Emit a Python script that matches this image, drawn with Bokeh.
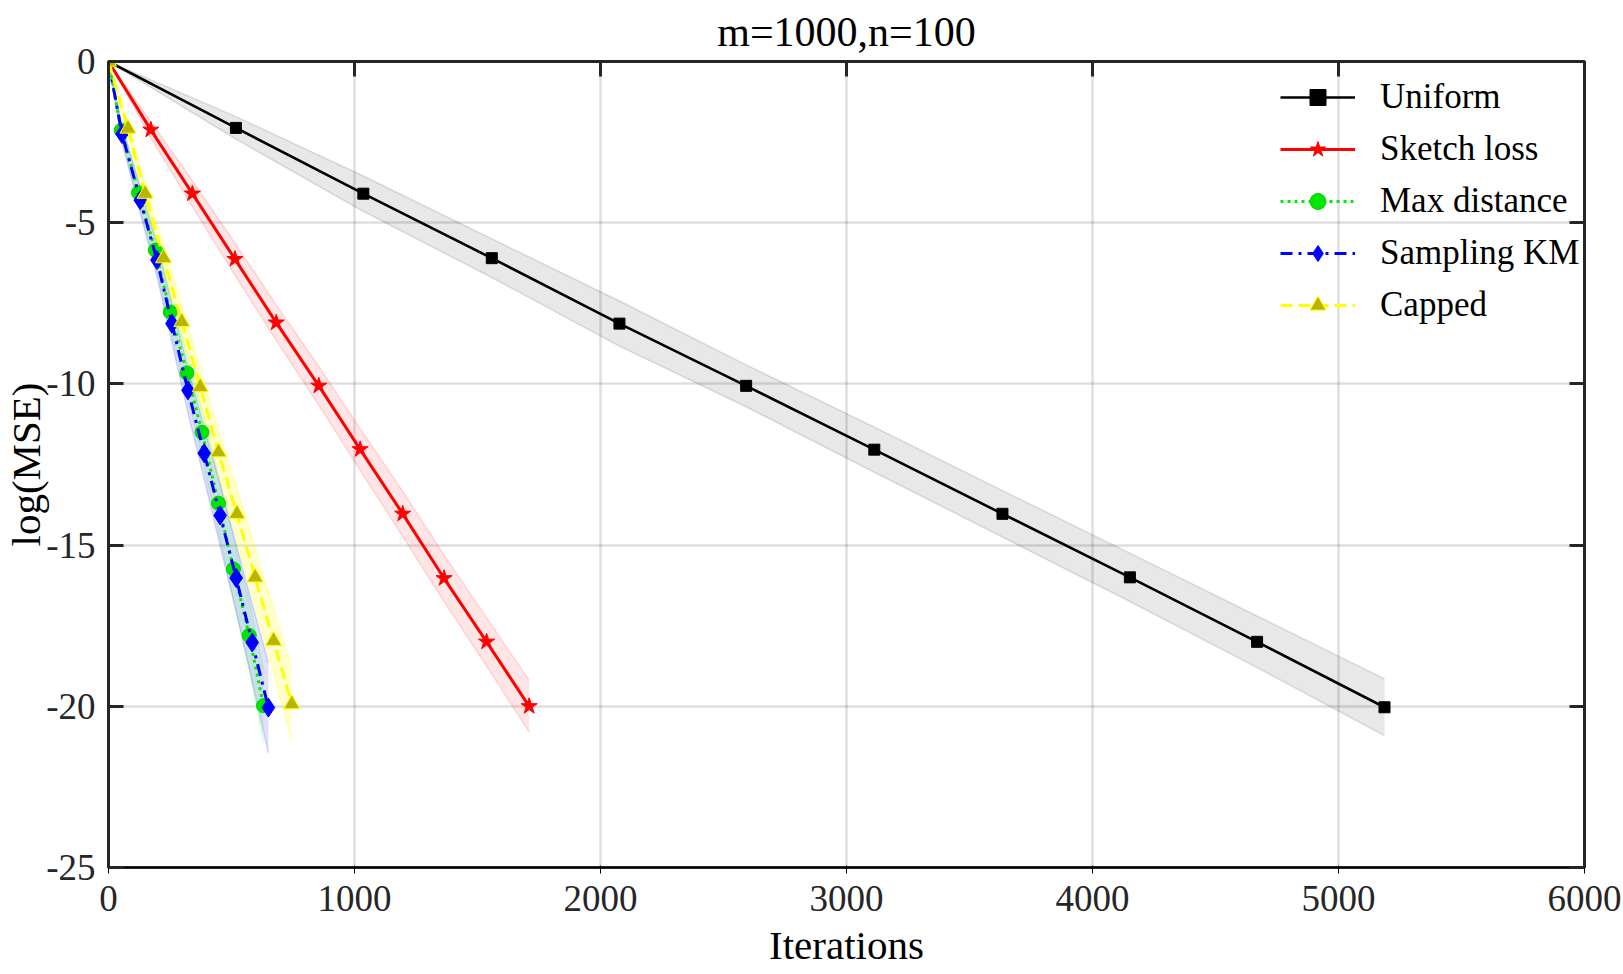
import numpy as np
from bokeh.plotting import figure
from bokeh.models import LinearAxis, FixedTicker, Legend, LegendItem, Range1d
from bokeh.embed import file_html
from bokeh.resources import INLINE

# ---------------- data ----------------
uni_x = [0, 518, 1036, 1558, 2077, 2592, 3113, 3634, 4152, 4669, 5187]
uni_y = [0, -2.06, -4.10, -6.10, -8.13, -10.06, -12.04, -14.03, -16.00, -18.00, -20.03]
uni_err = [0, 0.35, 0.55, 0.60, 0.70, 0.65, 0.70, 0.72, 0.75, 0.80, 0.88]

sk_x = [0, 172, 341, 514, 682, 855, 1023, 1196, 1364, 1537, 1710]
sk_y = [0, -2.12, -4.10, -6.13, -8.10, -10.06, -12.03, -14.03, -16.03, -18.00, -20.00]
sk_err = [0, 0.25, 0.40, 0.50, 0.55, 0.60, 0.65, 0.70, 0.72, 0.75, 0.80]

md_x = [0, 52, 122, 190, 251, 319, 380, 447, 508, 572, 630]
md_y = [0, -2.13, -4.07, -5.85, -7.77, -9.66, -11.50, -13.70, -15.74, -17.80, -19.98]
md_err = [0, 0.20, 0.35, 0.45, 0.55, 0.65, 0.75, 0.85, 0.95, 1.05, 1.15]

km_x = [0, 55, 129, 197, 258, 323, 389, 454, 519, 584, 650]
km_y = [0, -2.25, -4.30, -6.16, -8.13, -10.20, -12.15, -14.08, -16.02, -18.02, -20.04]
km_err = [0, 0.25, 0.40, 0.50, 0.60, 0.70, 0.80, 0.95, 1.05, 1.20, 1.40]

cap_x = [0, 79, 149, 224, 298, 373, 447, 522, 596, 671, 745]
cap_y = [0, -2.08, -4.10, -6.10, -8.08, -10.10, -12.12, -14.03, -16.00, -17.97, -19.93]
cap_err = [0, 0.20, 0.30, 0.40, 0.50, 0.60, 0.70, 0.80, 0.90, 1.00, 1.15]

x_ticks = [0, 1000, 2000, 3000, 4000, 5000, 6000]
y_ticks = [-25, -20, -15, -10, -5, 0]
y_tick_labels = ["-25", "-20", "-15", "-10", "-5", "0"]

FONT = "Liberation Serif"
AX = "#262626"

p = figure(width=1623, height=974, output_backend="svg", toolbar_location=None,
           x_range=Range1d(0, 6000), y_range=Range1d(-25, 0),
           min_border_left=108, min_border_right=39, min_border_top=61,
           min_border_bottom=107)
p.background_fill_color = "white"
p.border_fill_color = "white"
p.outline_line_color = AX
p.outline_line_width = 3

p.title.text = "m=1000,n=100"
p.title.align = "center"
p.title.text_font = FONT
p.title.text_font_size = "42px"
p.title.text_font_style = "normal"
p.title.text_color = "black"
p.title.standoff = 13

# main axes
p.xaxis.ticker = FixedTicker(ticks=x_ticks)
p.yaxis.ticker = FixedTicker(ticks=y_ticks)
p.yaxis.major_label_overrides = {t: s for t, s in zip(y_ticks, y_tick_labels)}
p.xaxis.axis_label = "Iterations"
p.yaxis.axis_label = "log(MSE)"
for ax in (p.xaxis[0], p.yaxis[0]):
    ax.axis_label_text_font = FONT
    ax.axis_label_text_font_size = "41px"
    ax.axis_label_text_font_style = "normal"
    ax.axis_label_text_color = "black"
    ax.major_label_text_font = FONT
    ax.major_label_text_font_size = "37px"
    ax.major_label_text_color = AX
p.xaxis.major_label_standoff = 12
p.xaxis.axis_label_standoff = 8
p.yaxis.major_label_standoff = 13
p.yaxis.axis_label_standoff = -6

# box axes on top and right (ticks only)
top = LinearAxis(ticker=FixedTicker(ticks=x_ticks),
                 major_label_overrides={t: "" for t in x_ticks},
                 major_label_text_font_size="0px", major_label_standoff=0)
right = LinearAxis(ticker=FixedTicker(ticks=y_ticks),
                   major_label_overrides={t: "" for t in y_ticks},
                   major_label_text_font_size="0px", major_label_standoff=0)
p.add_layout(top, "above")
p.add_layout(right, "right")

for ax in (p.xaxis[0], p.yaxis[0], top, right):
    ax.axis_line_color = AX
    ax.axis_line_width = 3
    ax.major_tick_line_color = AX
    ax.major_tick_line_width = 3
    ax.major_tick_in = 15
    ax.major_tick_out = 0
    ax.minor_tick_line_color = None

for g in (p.xgrid[0], p.ygrid[0]):
    g.grid_line_color = AX
    g.grid_line_alpha = 0.15
    g.grid_line_width = 2.5
p.xgrid.ticker = FixedTicker(ticks=x_ticks)
p.ygrid.ticker = FixedTicker(ticks=y_ticks)

series = [
    dict(x=uni_x, y=uni_y, e=uni_err, band="black", balpha=0.09, lc="black", dash="solid",
         marker="square", size=11, fc="black", mc="black", label="Uniform", lw=2.6),
    dict(x=sk_x, y=sk_y, e=sk_err, band="red", balpha=0.10, lc="#ff0000", dash="solid",
         marker="star", size=17, fc="#ff0000", mc="#ff0000", label="Sketch loss", lw=3),
    dict(x=md_x, y=md_y, e=md_err, band="#00ff00", balpha=0.10, lc="#00ee00", dash="3 4",
         marker="circle", size=14, fc="#00e600", mc="#00d000", label="Max distance", lw=3),
    dict(x=km_x, y=km_y, e=km_err, band="blue", balpha=0.12, lc="#0000ff", dash="12 6 3 6",
         marker="diamond", size=19, fc="#0000ff", mc="#0000ff", label="Sampling KM", lw=3),
    dict(x=cap_x, y=cap_y, e=cap_err, band="yellow", balpha=0.20, lc="#ffff00", dash="12 6",
         marker="triangle", size=16, fc="#b8b400", mc="#ffff00", label="Capped", lw=3),
]

for s in series:
    lo = [a - b for a, b in zip(s["y"], s["e"])]
    hi = [a + b for a, b in zip(s["y"], s["e"])]
    p.varea(x=s["x"], y1=lo, y2=hi, fill_color=s["band"], fill_alpha=s["balpha"])
    p.line(s["x"], lo, line_color=s["band"], line_alpha=s["balpha"] + 0.03, line_width=1.5)
    p.line(s["x"], hi, line_color=s["band"], line_alpha=s["balpha"] + 0.03, line_width=1.5)

items = []
for s in series:
    ln = p.line(s["x"], s["y"], line_color=s["lc"], line_width=s["lw"], line_dash=s["dash"])
    mk = p.scatter(s["x"], s["y"], marker=s["marker"], size=s["size"], fill_color=s["fc"],
                   line_color=s["mc"], line_width=1)
    items.append(LegendItem(label=s["label"], renderers=[ln, mk]))

legend = Legend(items=items, location=(1172, 542), border_line_color=None,
                background_fill_alpha=0, label_text_font=FONT, label_text_font_size="35px",
                label_text_color="black", glyph_width=75, glyph_height=40, label_height=40,
                label_standoff=25, spacing=12, padding=0, margin=0)
p.add_layout(legend)

open("out.html", "w").write(file_html(p, INLINE, title="plot"))
